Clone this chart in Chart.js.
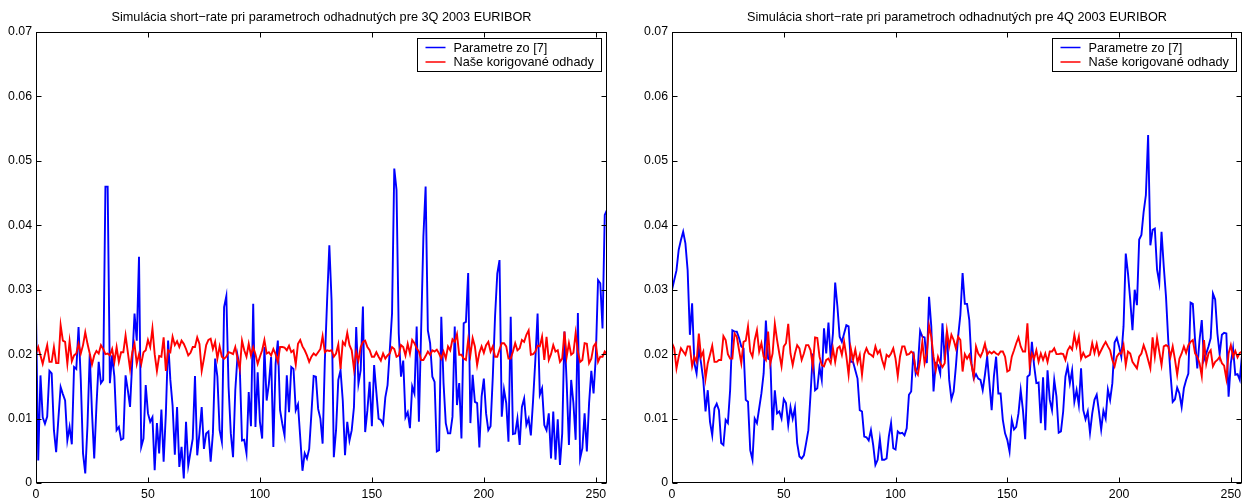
<!DOCTYPE html>
<html><head><meta charset="utf-8">
<script src="https://cdn.jsdelivr.net/npm/chart.js@4.4.0/dist/chart.umd.min.js"></script>
<style>html,body{margin:0;padding:0;background:#fff;overflow:hidden;width:1247px;height:503px}
canvas{position:absolute;top:0}</style>
</head><body>
<canvas id="c1" width="623" height="503" style="left:0px"></canvas>
<canvas id="c2" width="611" height="503" style="left:636px"></canvas>
<script>
const seriesNames = ['Parametre zo [7]', 'Naše korigované odhady'];
const titles = ['Simulácia short\u2212rate pri parametroch odhadnutých pre 3Q 2003 EURIBOR',
                'Simulácia short\u2212rate pri parametroch odhadnutých pre 4Q 2003 EURIBOR'];
const xTicks = [0, 50, 100, 150, 200, 250];
const yTicks = [0, 0.01, 0.02, 0.03, 0.04, 0.05, 0.06, 0.07];

const leftBlue = [
0.0263,0.0035,0.0167,0.0102,0.0092,0.0103,0.0174,0.0170,0.0082,0.0048,
0.0100,0.0149,0.0138,0.0128,0.0066,0.0087,0.0060,0.0180,0.0177,0.0242,
0.0160,0.0046,0.0015,0.0090,0.0200,0.0110,0.0038,0.0120,0.0188,0.0155,
0.0160,0.0460,0.0460,0.0155,0.0198,0.0165,0.0082,0.0087,0.0067,0.0069,
0.0167,0.0144,0.0118,0.0190,0.0263,0.0221,0.0351,0.0056,0.0069,0.0152,
0.0108,0.0095,0.0102,0.0020,0.0093,0.0046,0.0114,0.0033,0.0108,0.0221,
0.0160,0.0120,0.0044,0.0118,0.0025,0.0056,0.0007,0.0095,0.0027,0.0048,
0.0069,0.0166,0.0043,0.0077,0.0118,0.0053,0.0077,0.0080,0.0033,0.0077,
0.0193,0.0165,0.0082,0.0064,0.0273,0.0290,0.0149,0.0077,0.0040,0.0144,
0.0198,0.0180,0.0066,0.0067,0.0046,0.0141,0.0088,0.0278,0.0087,0.0172,
0.0095,0.0069,0.0211,0.0128,0.0154,0.0196,0.0056,0.0185,0.0221,0.0113,
0.0092,0.0074,0.0167,0.0110,0.0180,0.0177,0.0113,0.0122,0.0071,0.0019,
0.0046,0.0038,0.0053,0.0108,0.0166,0.0165,0.0115,0.0100,0.0061,0.0190,
0.0283,0.0369,0.0283,0.0040,0.0082,0.0160,0.0175,0.0128,0.0043,0.0095,
0.0066,0.0082,0.0118,0.0242,0.0154,0.0175,0.0274,0.0079,0.0113,0.0157,
0.0088,0.0183,0.0141,0.0100,0.0098,0.0091,0.0133,0.0152,0.0206,0.0263,
0.0488,0.0455,0.0232,0.0165,0.0190,0.0102,0.0110,0.0085,0.0150,0.0139,
0.0243,0.0095,0.0237,0.0382,0.0460,0.0237,0.0217,0.0165,0.0157,0.0049,
0.0051,0.0258,0.0155,0.0093,0.0077,0.0077,0.0103,0.0243,0.0121,0.0155,
0.0069,0.0248,0.0250,0.0326,0.0093,0.0168,0.0126,0.0124,0.0055,0.0134,
0.0162,0.0108,0.0082,0.0088,0.0165,0.0258,0.0325,0.0346,0.0103,0.0145,
0.0124,0.0064,0.0258,0.0076,0.0077,0.0100,0.0059,0.0118,0.0131,0.0090,
0.0100,0.0074,0.0129,0.0191,0.0263,0.0137,0.0147,0.0090,0.0082,0.0108,
0.0038,0.0111,0.0036,0.0099,0.0028,0.0077,0.0235,0.0155,0.0059,0.0160,
0.0124,0.0067,0.0264,0.0038,0.0054,0.0108,0.0049,0.0124,0.0174,0.0139,
0.0196,0.0315,0.0310,0.0240,0.0416,0.0424];

const leftRed = [
0.0201,0.0211,0.0198,0.0185,0.0200,0.0214,0.0188,0.0188,0.0211,0.0186,
0.0186,0.0245,0.0221,0.0219,0.0185,0.0220,0.0189,0.0198,0.0201,0.0216,
0.0201,0.0214,0.0234,0.0216,0.0201,0.0184,0.0198,0.0205,0.0201,0.0214,
0.0208,0.0200,0.0201,0.0198,0.0208,0.0188,0.0211,0.0188,0.0203,0.0203,
0.0229,0.0203,0.0177,0.0203,0.0216,0.0185,0.0200,0.0185,0.0203,0.0206,
0.0222,0.0211,0.0240,0.0200,0.0174,0.0197,0.0196,0.0226,0.0174,0.0206,
0.0203,0.0227,0.0214,0.0220,0.0211,0.0221,0.0216,0.0208,0.0198,0.0202,
0.0211,0.0211,0.0226,0.0216,0.0174,0.0193,0.0214,0.0222,0.0224,0.0208,
0.0219,0.0193,0.0212,0.0196,0.0193,0.0196,0.0203,0.0202,0.0200,0.0211,
0.0193,0.0177,0.0221,0.0206,0.0196,0.0216,0.0198,0.0211,0.0200,0.0185,
0.0196,0.0206,0.0222,0.0201,0.0203,0.0198,0.0208,0.0200,0.0188,0.0211,
0.0211,0.0210,0.0206,0.0213,0.0203,0.0206,0.0184,0.0216,0.0222,0.0212,
0.0206,0.0198,0.0188,0.0196,0.0201,0.0198,0.0203,0.0208,0.0228,0.0203,
0.0206,0.0205,0.0206,0.0196,0.0201,0.0215,0.0177,0.0219,0.0214,0.0233,
0.0214,0.0206,0.0177,0.0203,0.0190,0.0211,0.0219,0.0221,0.0211,0.0206,
0.0196,0.0196,0.0203,0.0196,0.0190,0.0201,0.0193,0.0198,0.0201,0.0211,
0.0208,0.0196,0.0198,0.0214,0.0211,0.0198,0.0216,0.0201,0.0222,0.0217,
0.0209,0.0204,0.0191,0.0191,0.0197,0.0204,0.0199,0.0206,0.0204,0.0207,
0.0201,0.0193,0.0204,0.0193,0.0212,0.0206,0.0223,0.0219,0.0231,0.0199,
0.0199,0.0193,0.0191,0.0222,0.0199,0.0225,0.0212,0.0183,0.0202,0.0212,
0.0202,0.0214,0.0219,0.0204,0.0212,0.0196,0.0196,0.0207,0.0217,0.0217,
0.0212,0.0193,0.0193,0.0204,0.0217,0.0206,0.0209,0.0222,0.0219,0.0230,
0.0237,0.0199,0.0200,0.0204,0.0213,0.0212,0.0227,0.0191,0.0227,0.0191,
0.0200,0.0214,0.0204,0.0206,0.0188,0.0193,0.0235,0.0196,0.0217,0.0199,
0.0202,0.0233,0.0204,0.0188,0.0191,0.0217,0.0216,0.0186,0.0193,0.0212,
0.0217,0.0188,0.0196,0.0196,0.0204,0.0200];

const rightBlue = [
0.0300,0.0315,0.0330,0.0362,0.0377,0.0390,0.0372,0.0330,0.0230,0.0279,
0.0186,0.0170,0.0209,0.0186,0.0160,0.0111,0.0144,0.0095,0.0074,0.0116,
0.0123,0.0113,0.0062,0.0059,0.0098,0.0093,0.0144,0.0237,0.0235,0.0235,
0.0225,0.0212,0.0209,0.0129,0.0126,0.0051,0.0036,0.0100,0.0093,0.0116,
0.0139,0.0170,0.0252,0.0193,0.0191,0.0082,0.0144,0.0108,0.0111,0.0100,
0.0130,0.0124,0.0090,0.0118,0.0100,0.0117,0.0062,0.0041,0.0038,0.0043,
0.0062,0.0082,0.0139,0.0201,0.0144,0.0147,0.0180,0.0160,0.0240,0.0201,
0.0249,0.0193,0.0232,0.0311,0.0274,0.0227,0.0219,0.0232,0.0245,0.0243,
0.0188,0.0188,0.0175,0.0162,0.0113,0.0111,0.0072,0.0071,0.0066,0.0082,
0.0059,0.0028,0.0036,0.0068,0.0036,0.0036,0.0038,0.0072,0.0093,0.0054,
0.0052,0.0080,0.0077,0.0078,0.0074,0.0085,0.0137,0.0142,0.0204,0.0170,
0.0181,0.0236,0.0227,0.0226,0.0186,0.0289,0.0243,0.0142,0.0186,0.0183,
0.0170,0.0248,0.0191,0.0235,0.0160,0.0130,0.0142,0.0181,0.0227,0.0261,
0.0326,0.0278,0.0278,0.0253,0.0186,0.0162,0.0169,0.0162,0.0160,0.0144,
0.0168,0.0196,0.0155,0.0113,0.0165,0.0196,0.0139,0.0139,0.0098,0.0077,
0.0067,0.0049,0.0098,0.0083,0.0087,0.0108,0.0144,0.0113,0.0068,0.0165,
0.0168,0.0219,0.0182,0.0155,0.0156,0.0093,0.0164,0.0082,0.0175,0.0129,
0.0113,0.0160,0.0134,0.0078,0.0080,0.0111,0.0165,0.0181,0.0155,0.0175,
0.0126,0.0144,0.0121,0.0178,0.0113,0.0099,0.0111,0.0078,0.0108,0.0129,
0.0137,0.0111,0.0083,0.0112,0.0100,0.0145,0.0129,0.0155,0.0218,0.0225,
0.0212,0.0196,0.0243,0.0356,0.0325,0.0284,0.0237,0.0300,0.0276,0.0378,
0.0385,0.0421,0.0447,0.0540,0.0369,0.0393,0.0395,0.0331,0.0311,0.0390,
0.0336,0.0289,0.0222,0.0170,0.0126,0.0130,0.0148,0.0139,0.0118,0.0147,
0.0160,0.0170,0.0280,0.0278,0.0222,0.0178,0.0222,0.0253,0.0191,0.0201,
0.0212,0.0225,0.0294,0.0285,0.0232,0.0200,0.0230,0.0233,0.0232,0.0134,
0.0186,0.0209,0.0168,0.0169,0.0160,0.0199];

const rightRed = [
0.0217,0.0209,0.0178,0.0196,0.0209,0.0204,0.0199,0.0212,0.0212,0.0181,
0.0196,0.0188,0.0232,0.0196,0.0204,0.0162,0.0186,0.0199,0.0213,0.0188,
0.0188,0.0191,0.0191,0.0228,0.0222,0.0200,0.0193,0.0193,0.0232,0.0227,
0.0206,0.0186,0.0219,0.0221,0.0243,0.0204,0.0196,0.0222,0.0237,0.0204,
0.0217,0.0196,0.0191,0.0235,0.0186,0.0201,0.0247,0.0222,0.0201,0.0181,
0.0212,0.0217,0.0247,0.0201,0.0183,0.0201,0.0214,0.0209,0.0191,0.0201,
0.0214,0.0214,0.0206,0.0181,0.0226,0.0225,0.0196,0.0183,0.0181,0.0191,
0.0193,0.0186,0.0209,0.0188,0.0209,0.0212,0.0199,0.0219,0.0197,0.0168,
0.0209,0.0191,0.0207,0.0187,0.0199,0.0168,0.0200,0.0209,0.0201,0.0199,
0.0196,0.0212,0.0201,0.0206,0.0191,0.0180,0.0199,0.0196,0.0201,0.0209,
0.0193,0.0166,0.0196,0.0212,0.0212,0.0199,0.0200,0.0204,0.0201,0.0174,
0.0168,0.0191,0.0219,0.0186,0.0201,0.0244,0.0227,0.0196,0.0175,0.0196,
0.0186,0.0180,0.0186,0.0236,0.0212,0.0230,0.0222,0.0209,0.0227,0.0222,
0.0173,0.0200,0.0193,0.0199,0.0183,0.0165,0.0212,0.0201,0.0196,0.0204,
0.0216,0.0199,0.0204,0.0201,0.0204,0.0201,0.0199,0.0204,0.0204,0.0196,
0.0173,0.0175,0.0196,0.0206,0.0217,0.0226,0.0212,0.0204,0.0204,0.0248,
0.0183,0.0201,0.0193,0.0206,0.0188,0.0201,0.0191,0.0201,0.0188,0.0204,
0.0204,0.0209,0.0200,0.0200,0.0201,0.0200,0.0191,0.0206,0.0212,0.0207,
0.0230,0.0212,0.0227,0.0193,0.0202,0.0195,0.0197,0.0199,0.0217,0.0202,
0.0216,0.0199,0.0206,0.0213,0.0219,0.0212,0.0206,0.0191,0.0181,0.0196,
0.0201,0.0201,0.0214,0.0183,0.0204,0.0201,0.0188,0.0183,0.0178,0.0196,
0.0201,0.0214,0.0204,0.0191,0.0178,0.0226,0.0196,0.0225,0.0204,0.0183,
0.0212,0.0214,0.0212,0.0196,0.0212,0.0192,0.0168,0.0193,0.0201,0.0212,
0.0202,0.0214,0.0219,0.0222,0.0201,0.0196,0.0186,0.0166,0.0222,0.0185,
0.0201,0.0206,0.0181,0.0188,0.0191,0.0196,0.0186,0.0182,0.0162,0.0201,
0.0214,0.0196,0.0205,0.0195,0.0202,0.0204];

const FONT = '"Liberation Sans", Arial, Helvetica, sans-serif';
const TEXT_SIZE = 12.7;
const TICK_SIZE = 12.3;
Chart.defaults.color = '#000';
Chart.defaults.font.family = FONT;
Chart.defaults.font.size = TICK_SIZE;

const framePlugin = {
  id: 'frame',
  afterDatasetsDraw(chart, args, opts) {
    const ctx = chart.ctx, a = chart.chartArea, xs = chart.scales.x, ys = chart.scales.y;
    ctx.save();
    ctx.strokeStyle = '#000';
    ctx.lineWidth = 1;
    const L = Math.round(a.left) + 0.5, R = Math.round(a.right) - 0.5;
    const T = Math.round(a.top) + 0.5, B = Math.round(a.bottom) - 0.5;
    ctx.strokeRect(L, T, R - L, B - T);
    ctx.beginPath();
    const tl = 5;
    xTicks.forEach(v => {
      const px = Math.round(xs.getPixelForValue(v)) + 0.5;
      ctx.moveTo(px, B); ctx.lineTo(px, B - tl);
      ctx.moveTo(px, T); ctx.lineTo(px, T + tl);
    });
    yTicks.forEach(v => {
      const py = Math.round(ys.getPixelForValue(v)) + 0.5;
      ctx.moveTo(L, py); ctx.lineTo(L + tl, py);
      ctx.moveTo(R, py); ctx.lineTo(R - tl, py);
    });
    ctx.stroke();
    // title
    ctx.fillStyle = '#000';
    ctx.font = TEXT_SIZE + 'px ' + FONT;
    ctx.textAlign = 'center';
    ctx.textBaseline = 'middle';
    ctx.fillText(opts.title, (a.left + a.right) / 2, 17);
    // legend
    const ds = chart.data.datasets;
    let tw = 0;
    ds.forEach(d => { tw = Math.max(tw, ctx.measureText(d.label).width); });
    const bw = Math.round(36 + tw + 8), bh = 33;
    const bx = Math.round(a.right - 6 - bw) + 0.5, by = Math.round(a.top + 6) + 0.5;
    ctx.fillStyle = '#fff';
    ctx.fillRect(bx, by, bw, bh);
    ctx.strokeStyle = '#000';
    ctx.strokeRect(bx, by, bw, bh);
    ds.forEach((d, i) => {
      const ry = by + 9 + i * 14.5;
      ctx.strokeStyle = d.borderColor;
      ctx.lineWidth = 1.5;
      ctx.beginPath();
      ctx.moveTo(bx + 8, ry); ctx.lineTo(bx + 28, ry);
      ctx.stroke();
      ctx.fillStyle = '#000';
      ctx.textAlign = 'left';
      ctx.fillText(d.label, bx + 36, ry + 0.5);
    });
    ctx.restore();
  }
};

function makeChart(id, title, blue, red, padRight) {
  const toPts = arr => arr.map((v, i) => ({ x: i, y: v }));
  return new Chart(document.getElementById(id), {
    type: 'line',
    data: {
      datasets: [
        { label: seriesNames[0], data: toPts(blue), borderColor: '#0000ff', borderWidth: 1.9,
          pointRadius: 0, tension: 0, fill: false, order: 2 },
        { label: seriesNames[1], data: toPts(red), borderColor: '#ff0000', borderWidth: 1.9,
          pointRadius: 0, tension: 0, fill: false, order: 1 }
      ]
    },
    options: {
      responsive: false,
      animation: false,
      layout: { padding: { top: 32, right: padRight, left: 0, bottom: 0 } },
      plugins: { legend: { display: false }, tooltip: { enabled: false }, title: { display: false },
                 frame: { title: title } },
      scales: {
        x: {
          type: 'linear', min: 0, max: 255,
          grid: { display: false, drawTicks: false }, border: { display: false },
          afterBuildTicks: s => { s.ticks = xTicks.map(v => ({ value: v })); },
          afterFit: s => { s.height = 20; },
          ticks: { padding: 4, maxRotation: 0, font: { size: TICK_SIZE }, callback: v => String(v) }
        },
        y: {
          type: 'linear', min: 0, max: 0.07,
          grid: { display: false, drawTicks: false }, border: { display: false },
          afterBuildTicks: s => { s.ticks = yTicks.map(v => ({ value: v })); },
          afterFit: s => { s.width = 36; },
          ticks: { padding: 4, font: { size: TICK_SIZE }, callback: v => v === 0 ? '0' : v.toFixed(2) }
        }
      }
    },
    plugins: [framePlugin]
  });
}

makeChart('c1', titles[0], leftBlue, leftRed, 16);
makeChart('c2', titles[1], rightBlue, rightRed, 5);
</script>
</body></html>
